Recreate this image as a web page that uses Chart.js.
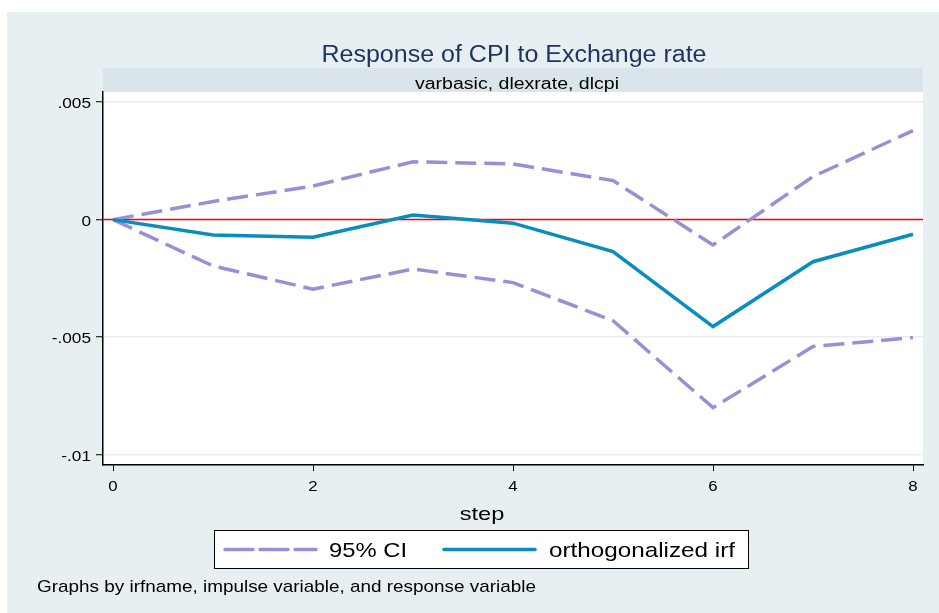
<!DOCTYPE html>
<html>
<head>
<meta charset="utf-8">
<script src="https://cdn.jsdelivr.net/npm/chart.js@4.4.1/dist/chart.umd.min.js"></script>
<style>
html,body{margin:0;padding:0;background:#fff;}
canvas{display:block;}
</style>
</head>
<body>
<canvas id="c" width="939" height="613"></canvas>
<script>
// ---- data ----
const steps = [0, 1, 2, 3, 4, 5, 6, 7, 8];
const irf = [0, -0.00065, -0.00075, 0.0002, -0.00015, -0.00136, -0.00455, -0.00179, -0.00062];
const ciUpper = [0, 0.00077, 0.00143, 0.00246, 0.00237, 0.00166, -0.00108, 0.00183, 0.00379];
const ciLower = [0, -0.00197, -0.00296, -0.0021, -0.00268, -0.0043, -0.0080, -0.0054, -0.00502];
const yTicks = [-0.01, -0.005, 0, 0.005];
const yTickLabels = ['-.01', '-.005', '0', '.005'];
const xTicks = [0, 2, 4, 6, 8];
const xTickLabels = ['0', '2', '4', '6', '8'];
const refLine = 0;
const titleText = 'Response of CPI to Exchange rate';
const subtitleText = 'varbasic, dlexrate, dlcpi';
const xTitle = 'step';
const legendLabels = ['95% CI', 'orthogonalized irf'];
const noteText = 'Graphs by irfname, impulse variable, and response variable';

const FONT = '"Liberation Sans", Arial, Helvetica, sans-serif';
const PURPLE = '#9a8fd6';
const BLUE = '#0a8dbd';
const PANEL = '#e8eff2';
const BAND = '#d9e5eb';

const pts = arr => steps.map((s, i) => ({x: s, y: arr[i]}));

// draw text horizontally stretched (to mimic the wide rendering of the original)
function txt(ctx, s, x, y, size, opts) {
  ctx.save();
  ctx.font = size + 'px ' + FONT;
  ctx.fillStyle = opts.color || '#000';
  ctx.textBaseline = 'alphabetic';
  const w = ctx.measureText(s).width;
  const k = opts.width ? opts.width / w : (opts.stretch || 1);
  const W = w * k;
  let left = x;
  if (opts.align === 'center') left = x - W / 2;
  else if (opts.align === 'right') left = x - W;
  ctx.translate(left, y);
  ctx.scale(k, 1);
  ctx.textAlign = 'left';
  ctx.fillText(s, 0, 0);
  ctx.restore();
}

const decor = {
  id: 'decor',
  beforeDraw(chart) {
    const ctx = chart.ctx;
    const ca = chart.chartArea;
    ctx.save();
    ctx.fillStyle = '#ffffff';
    ctx.fillRect(0, 0, chart.width, chart.height);
    ctx.fillStyle = PANEL;
    ctx.fillRect(7, 12, chart.width - 7, chart.height - 12);
    ctx.fillStyle = BAND;
    ctx.fillRect(ca.left, 68, ca.right - ca.left, ca.top - 68);
    ctx.fillStyle = '#ffffff';
    ctx.fillRect(ca.left, ca.top, ca.right - ca.left, ca.bottom - ca.top);
    ctx.restore();
    txt(ctx, titleText, 514, 62, 23, {align: 'center', width: 385, color: '#1f3560'});
    txt(ctx, subtitleText, 517, 89, 16, {align: 'center', width: 204});
  },
  beforeDatasetsDraw(chart) {
    const ctx = chart.ctx;
    const ca = chart.chartArea;
    const y = chart.scales.y.getPixelForValue(refLine);
    ctx.save();
    ctx.strokeStyle = '#ff0000';
    ctx.lineWidth = 1.5;
    ctx.beginPath();
    ctx.moveTo(ca.left, y);
    ctx.lineTo(ca.right, y);
    ctx.stroke();
    ctx.restore();
  },
  afterDraw(chart) {
    const ctx = chart.ctx;
    const sx = chart.scales.x, sy = chart.scales.y;
    // tick labels through the library's scales
    yTicks.forEach((v, i) => txt(ctx, yTickLabels[i], 91, sy.getPixelForValue(v) + 6.3, 14, {align: 'right', stretch: 1.23}));
    xTicks.forEach((v, i) => txt(ctx, xTickLabels[i], sx.getPixelForValue(v), 491, 14, {align: 'center', stretch: 1.2}));
    txt(ctx, xTitle, 482, 520, 19, {align: 'center', width: 44.6});
    // legend
    ctx.save();
    ctx.fillStyle = '#ffffff';
    ctx.fillRect(214, 530, 534, 38);
    ctx.strokeStyle = '#000';
    ctx.lineWidth = 1;
    ctx.strokeRect(214.5, 530.5, 534, 38);
    const ly = 549.5;
    ctx.lineWidth = 3.5;
    ctx.lineCap = 'round';
    ctx.strokeStyle = PURPLE;
    ctx.setLineDash([28, 7]);
    ctx.beginPath(); ctx.moveTo(225, ly); ctx.lineTo(316, ly); ctx.stroke();
    ctx.setLineDash([]);
    ctx.strokeStyle = BLUE;
    ctx.beginPath(); ctx.moveTo(444, ly); ctx.lineTo(535, ly); ctx.stroke();
    ctx.restore();
    txt(ctx, legendLabels[0], 329, 557, 21, {width: 78});
    txt(ctx, legendLabels[1], 549, 557, 21, {width: 186});
    txt(ctx, noteText, 37, 592, 17, {width: 499});
  }
};

new Chart(document.getElementById('c'), {
  type: 'line',
  data: {
    datasets: [
      {label: legendLabels[1], data: pts(irf), borderColor: BLUE, borderWidth: 3.5, pointRadius: 0, tension: 0, order: 0, fill: false},
      {label: legendLabels[0], data: pts(ciUpper), borderColor: PURPLE, borderWidth: 3.5, borderDash: [21, 8], pointRadius: 0, tension: 0, order: 1, fill: false},
      {label: legendLabels[0] + ' lower', data: pts(ciLower), borderColor: PURPLE, borderWidth: 3.5, borderDash: [21, 8], pointRadius: 0, tension: 0, order: 1, fill: false}
    ]
  },
  options: {
    responsive: false,
    devicePixelRatio: 1,
    animation: false,
    layout: {padding: {left: 7, top: 92, right: 16, bottom: 91}},
    plugins: {legend: {display: false}, tooltip: {enabled: false}, title: {display: false}},
    scales: {
      x: {
        type: 'linear',
        min: -0.1,
        max: 8.1,
        afterBuildTicks: s => { s.ticks = xTicks.map(v => ({value: v})); },
        afterFit: s => { s.height = 57; },
        grid: {drawOnChartArea: false, drawTicks: true, tickLength: 6, tickColor: '#000', tickWidth: 1},
        border: {display: true, color: '#000', width: 1.5},
        ticks: {display: false},
        title: {display: false}
      },
      y: {
        type: 'linear',
        min: -0.01044,
        max: 0.00543,
        afterBuildTicks: s => { s.ticks = yTicks.map(v => ({value: v})); },
        afterFit: s => { s.width = 96; },
        grid: {drawOnChartArea: true, color: '#e6eef1', lineWidth: 1.5, drawTicks: true, tickLength: 7, tickColor: '#000', tickWidth: 1},
        border: {display: true, color: '#000', width: 1.5},
        ticks: {display: false}
      }
    }
  },
  plugins: [decor]
});
</script>
</body>
</html>
